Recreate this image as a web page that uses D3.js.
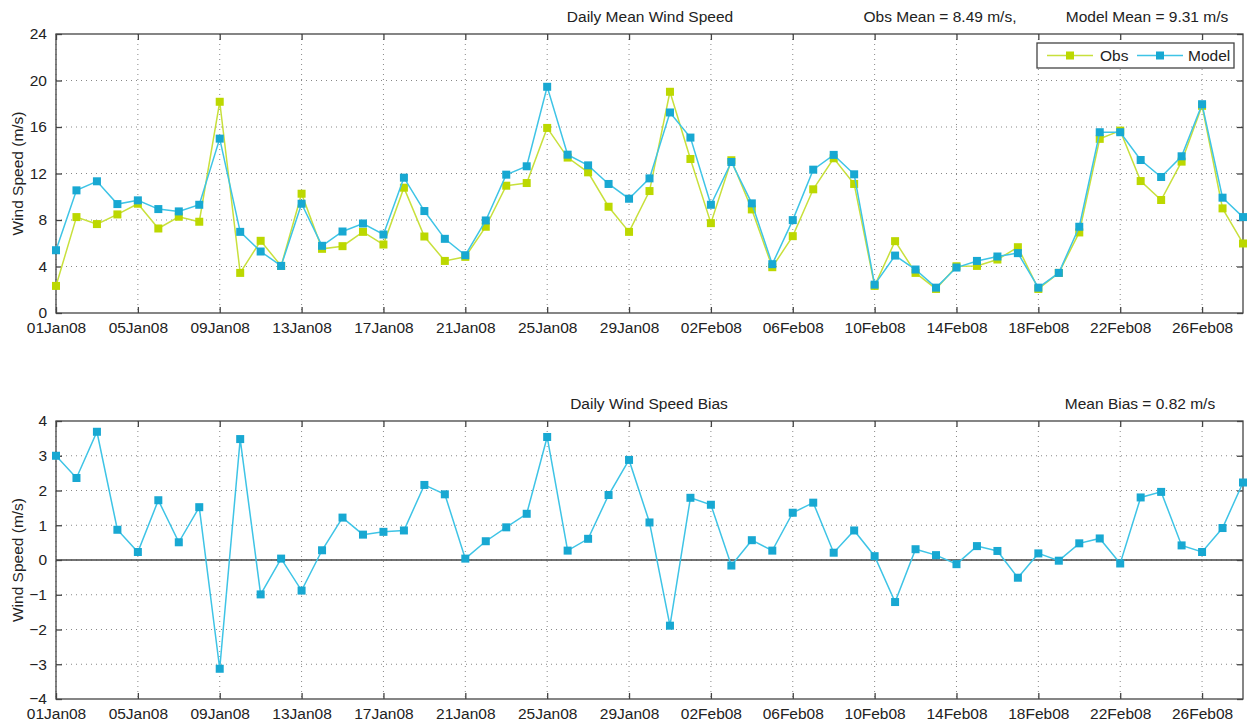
<!DOCTYPE html>
<html>
<head>
<meta charset="utf-8">
<script src="https://cdn.jsdelivr.net/npm/d3@7"></script>
<style>
  body { margin: 0; background: #fff; }
  text { font-family: "Liberation Sans", Arial, sans-serif; fill: #222; }
</style>
</head>
<body>
<svg id="canvas" width="1250" height="725"></svg>
<script>
// daily values, 01Jan08 .. 28Feb08
const obs = [2.33, 8.25, 7.65, 8.48, 9.40, 7.27, 8.28, 7.85, 18.17, 3.45,
  6.21, 4.05, 10.26, 5.52, 5.75, 6.98, 5.89, 10.78, 6.58, 4.48,
  4.83, 7.42, 10.95, 11.18, 15.92, 13.37, 12.10, 9.14, 6.98, 10.49,
  19.03, 13.25, 7.73, 13.14, 8.91, 3.94, 6.61, 10.64, 13.31, 11.10,
  2.33, 6.18, 3.45, 2.07, 4.02, 4.05, 4.60, 5.66, 2.07, 3.45,
  6.93, 14.98, 15.69, 11.35, 9.72, 13.02, 17.82, 9.00, 5.98];
const model = [5.40, 10.55, 11.33, 9.37, 9.69, 8.94, 8.74, 9.31, 15.00, 6.98,
  5.29, 4.05, 9.40, 5.78, 7.01, 7.70, 6.75, 11.64, 8.77, 6.38,
  4.97, 7.96, 11.90, 12.62, 19.46, 13.62, 12.70, 11.10, 9.83, 11.58,
  17.25, 15.09, 9.31, 12.99, 9.43, 4.20, 7.99, 12.33, 13.60, 11.93,
  2.44, 4.94, 3.74, 2.18, 3.91, 4.48, 4.86, 5.15, 2.18, 3.45,
  7.42, 15.55, 15.55, 13.16, 11.70, 13.48, 17.96, 9.92, 8.25];
const bias = [3.00, 2.36, 3.69, 0.87, 0.23, 1.72, 0.51, 1.52, -3.13, 3.48,
  -0.99, 0.04, -0.88, 0.28, 1.22, 0.73, 0.81, 0.85, 2.16, 1.89,
  0.04, 0.54, 0.94, 1.33, 3.54, 0.27, 0.61, 1.87, 2.88, 1.08,
  -1.89, 1.79, 1.59, -0.16, 0.57, 0.27, 1.36, 1.65, 0.21, 0.85,
  0.11, -1.21, 0.31, 0.14, -0.12, 0.40, 0.26, -0.51, 0.19, -0.02,
  0.48, 0.62, -0.10, 1.80, 1.96, 0.42, 0.23, 0.92, 2.23];
const speedTicks = [0, 4, 8, 12, 16, 20, 24];
const biasTicks = [-4, -3, -2, -1, 0, 1, 2, 3, 4];
const titles = ["Daily Mean Wind Speed", "Daily Wind Speed Bias"];
const stats = ["Obs Mean = 8.49 m/s,", "Model Mean = 9.31 m/s", "Mean Bias = 0.82 m/s"];
const yLabel = "Wind Speed (m/s)";

const start = new Date(2008, 0, 1);
const dates = obs.map((_, i) => d3.timeDay.offset(start, i));

const obsColor = "#bcd800", obsLine = "#c8e03c";
const modColor = "#18a8d2", modLine = "#3ec4e6";
const fs = 15.5;

const svg = d3.select("#canvas");
const left = 56, right = 1243;

const x = d3.scaleTime().domain([dates[0], dates[dates.length - 1]]).range([left, right]);
const xTicks = d3.timeDay.range(start, d3.timeDay.offset(dates[dates.length - 1], 1), 4);
const fmt = d3.timeFormat("%d%b%y");

function panel(top, bottom, yDomain, yTicks) {
  const y = d3.scaleLinear().domain(yDomain).range([bottom, top]);
  const g = svg.append("g");

  // dotted grid
  g.selectAll(".gx").data(xTicks).join("line")
    .attr("x1", d => x(d)).attr("x2", d => x(d))
    .attr("y1", top).attr("y2", bottom)
    .attr("stroke", "#888").attr("stroke-width", 1).attr("stroke-dasharray", "1,4");
  g.selectAll(".gy").data(yTicks.slice(1, -1)).join("line")
    .attr("x1", left).attr("x2", right)
    .attr("y1", d => y(d)).attr("y2", d => y(d))
    .attr("stroke", "#888").attr("stroke-width", 1).attr("stroke-dasharray", "1,4");

  // axes, ticks pointing inward
  g.append("g").attr("transform", `translate(0,${bottom})`)
    .call(d3.axisBottom(x).tickValues(xTicks).tickFormat(fmt).tickSizeInner(-6).tickSizeOuter(0).tickPadding(9));
  g.append("g").attr("transform", `translate(0,${top})`)
    .call(d3.axisTop(x).tickValues(xTicks).tickFormat("").tickSizeInner(-6).tickSizeOuter(0));
  g.append("g").attr("transform", `translate(${left},0)`)
    .call(d3.axisLeft(y).tickValues(yTicks).tickFormat(d => d < 0 ? "\u2212" + Math.abs(d) : d).tickSizeInner(-6).tickSizeOuter(0).tickPadding(9));
  g.append("g").attr("transform", `translate(${right},0)`)
    .call(d3.axisRight(y).tickValues(yTicks).tickFormat("").tickSizeInner(-6).tickSizeOuter(0));
  g.selectAll(".domain").remove();
  g.selectAll(".tick line").attr("stroke", "#444").attr("stroke-width", 1.3);
  g.selectAll(".tick text").attr("font-size", fs).attr("fill", "#222");
  g.append("rect").attr("x", left).attr("y", top).attr("width", right - left).attr("height", bottom - top)
    .attr("fill", "none").attr("stroke", "#444").attr("stroke-width", 1.3);

  g.append("text")
    .attr("transform", `translate(23,${(top + bottom) / 2}) rotate(-90)`)
    .attr("text-anchor", "middle").attr("font-size", fs).text(yLabel);
  return { g, y };
}

function series(g, y, values, lineColor, markColor) {
  const line = d3.line().x((d, i) => x(dates[i])).y(d => y(d));
  g.append("path").datum(values).attr("d", line)
    .attr("fill", "none").attr("stroke", lineColor).attr("stroke-width", 1.5);
  g.selectAll(null).data(values).join("rect")
    .attr("x", (d, i) => x(dates[i]) - 4).attr("y", d => y(d) - 4)
    .attr("width", 8).attr("height", 8).attr("fill", markColor);
}

// top panel
const p1 = panel(34, 313, [0, 24], speedTicks);
series(p1.g, p1.y, obs, obsLine, obsColor);
series(p1.g, p1.y, model, modLine, modColor);

svg.append("text").attr("x", 650).attr("y", 22).attr("text-anchor", "middle").attr("font-size", fs).text(titles[0]);
svg.append("text").attr("x", 940).attr("y", 22).attr("text-anchor", "middle").attr("font-size", fs).text(stats[0]);
svg.append("text").attr("x", 1147).attr("y", 22).attr("text-anchor", "middle").attr("font-size", fs).text(stats[1]);

// legend
const lg = svg.append("g").attr("transform", "translate(1037,43)");
lg.append("rect").attr("width", 197).attr("height", 25).attr("fill", "#fff").attr("stroke", "#444").attr("stroke-width", 1.3);
[["Obs", obsLine, obsColor, 10, 63], ["Model", modLine, modColor, 100, 151]].forEach(([name, lc, mc, lx, tx]) => {
  lg.append("line").attr("x1", lx).attr("x2", lx + 46).attr("y1", 12.5).attr("y2", 12.5).attr("stroke", lc).attr("stroke-width", 1.5);
  lg.append("rect").attr("x", lx + 19).attr("y", 8.5).attr("width", 8).attr("height", 8).attr("fill", mc);
  lg.append("text").attr("x", tx).attr("y", 18).attr("font-size", fs).text(name);
});

// bottom panel
const p2 = panel(421, 699, [-4, 4], biasTicks);
p2.g.append("line").attr("x1", left).attr("x2", right).attr("y1", p2.y(0)).attr("y2", p2.y(0))
  .attr("stroke", "#444").attr("stroke-width", 1.3);
series(p2.g, p2.y, bias, modLine, modColor);

svg.append("text").attr("x", 649).attr("y", 409).attr("text-anchor", "middle").attr("font-size", fs).text(titles[1]);
svg.append("text").attr("x", 1140).attr("y", 409).attr("text-anchor", "middle").attr("font-size", fs).text(stats[2]);
</script>
</body>
</html>
